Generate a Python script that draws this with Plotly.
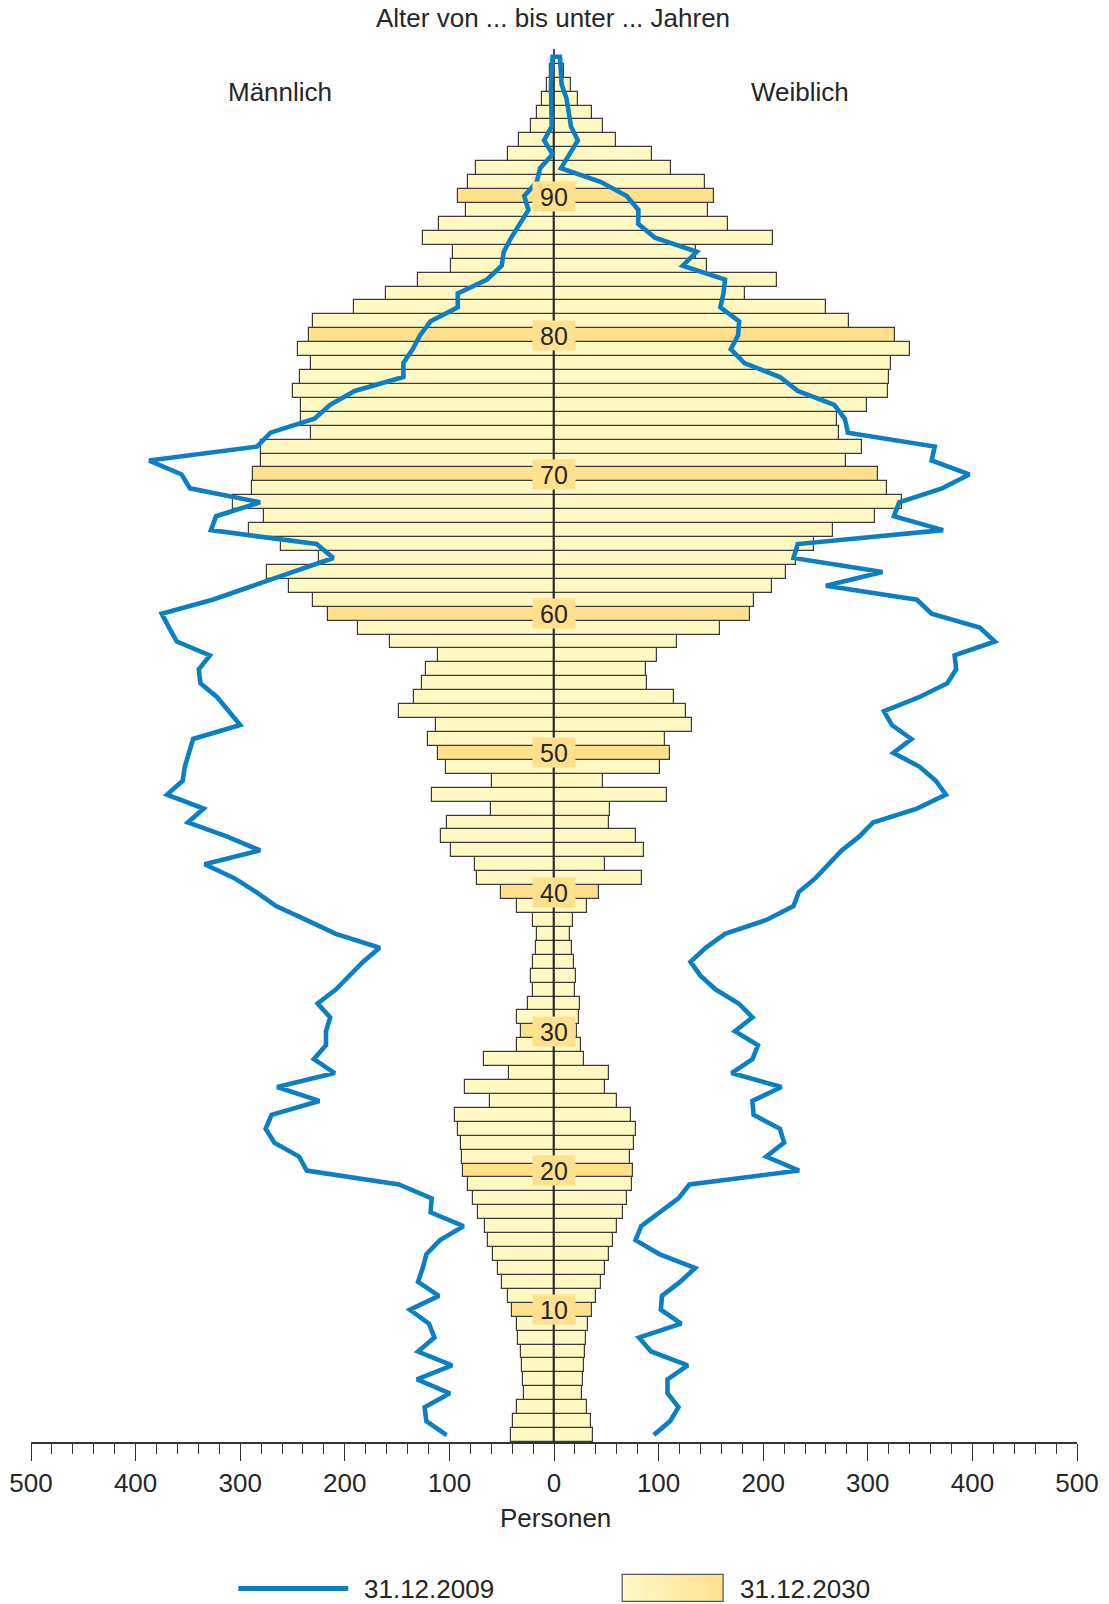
import plotly.graph_objects as go

# ---------------- data ----------------
ages_bar = list(range(1, 100))    # 99 one-year age groups (bars)
ages_line = list(range(1, 101))   # 100 points of the 2009 outline

male_2030 = [40.9, 39.3, 35.1, 28.8, 29.9, 30.9, 32.0, 34.1, 35.1, 39.8,
             44.0, 49.3, 53.5, 58.2, 62.9, 66.0, 72.3, 77.0, 82.3, 87.0,
             88.0, 89.1, 92.2, 94.9, 60.8, 85.0, 43.0, 67.0, 35.6, 31.4,
             35.6, 25.2, 19.9, 22.0, 19.9, 17.3, 16.2, 19.9, 35.6, 50.3,
             73.9, 76.0, 98.5, 108.5, 102.2, 60.3, 116.4, 59.2, 103.2, 111.1,
             120.0, 113.2, 148.3, 134.2, 126.3, 122.1, 111.1, 157.2, 187.6, 215.9,
             230.6, 253.1, 274.1, 224.3, 261.0, 291.5, 277.1, 307.1, 288.4, 287.4,
             280.1, 280.1, 232.5, 242.3, 242.3, 249.6, 243.3, 232.5, 244.4, 234.6,
             230.4, 191.6, 160.5, 129.6, 98.5, 97.0, 125.5, 109.6, 84.6, 91.6,
             82.1, 74.8, 44.4, 33.9, 22.2, 16.5, 11.1, 6.3, 3.8]

female_2030 = [37.7, 35.1, 31.4, 26.7, 27.8, 28.3, 29.4, 30.4, 32.5, 36.7,
               39.8, 44.5, 48.7, 53.0, 56.6, 60.3, 65.5, 70.2, 74.4, 75.5,
               72.3, 76.5, 78.6, 73.4, 60.3, 48.7, 52.4, 28.8, 25.7, 22.0,
               23.6, 24.6, 19.9, 21.0, 18.9, 16.8, 15.7, 17.8, 31.4, 43.0,
               83.9, 48.7, 86.0, 78.6, 52.4, 53.5, 108.5, 46.6, 101.7, 110.6,
               106.4, 131.6, 125.8, 114.8, 89.1, 88.0, 98.5, 117.4, 158.8, 187.6,
               190.8, 208.6, 221.7, 231.7, 248.4, 266.6, 306.7, 332.7, 318.6, 309.3,
               279.3, 294.3, 272.0, 271.0, 299.0, 319.2, 319.8, 322.3, 340.4, 326.0,
               281.9, 260.2, 182.5, 213.0, 146.0, 136.0, 209.0, 166.0, 147.5, 152.5,
               144.0, 112.0, 93.5, 59.6, 46.9, 36.4, 23.4, 15.8, 9.5]

male_2009 = [102.7, 122.0, 123.7, 99.6, 131.0, 97.5, 130.0, 114.3, 119.5, 137.8,
             110.0, 130.0, 125.5, 122.0, 109.0, 86.5, 118.0, 116.9, 148.3, 236.4,
             243.7, 267.3, 275.7, 270.0, 224.3, 264.7, 209.6, 229.6, 218.0, 218.0,
             214.0, 226.0, 208.6, 195.5, 182.4, 166.7, 208.6, 237.0, 265.7, 284.6,
             305.6, 334.0, 281.0, 313.0, 350.0, 335.0, 370.0, 355.0, 353.0, 349.0,
             345.0, 300.0, 311.0, 322.0, 338.0, 339.6, 329.0, 360.6, 368.0, 375.0,
             326.5, 288.0, 249.0, 211.0, 227.0, 328.0, 323.0, 281.0, 348.0, 356.0,
             387.0, 284.0, 271.0, 229.0, 214.0, 190.5, 144.0, 144.0, 135.0, 128.0,
             118.0, 92.0, 92.0, 64.0, 50.0, 48.0, 41.0, 33.0, 24.4, 28.5,
             16.5, 13.3, 1.3, 9.5, 2.2, 2.5, 2.9, 2.9, 2.2, 1.3]

female_2009 = [95.4, 111.0, 119.0, 108.5, 108.5, 127.9, 92.8, 81.2, 121.6, 102.2,
               103.2, 120.5, 135.0, 100.6, 78.0, 83.3, 100.6, 119.0, 129.5, 234.3,
               202.8, 220.0, 216.0, 190.8, 189.7, 217.5, 169.8, 189.7, 195.0, 173.0,
               189.7, 176.6, 154.6, 140.0, 130.5, 145.0, 163.5, 203.0, 229.0, 234.0,
               250.0, 263.0, 275.0, 292.0, 305.0, 347.0, 374.7, 365.0, 349.6, 324.4,
               341.7, 323.0, 315.5, 349.0, 376.0, 384.5, 383.0, 421.5, 407.0, 361.0,
               347.0, 260.0, 314.0, 229.0, 233.0, 372.0, 325.0, 330.0, 371.0, 397.0,
               361.0, 364.0, 281.0, 278.0, 268.0, 233.0, 216.0, 182.0, 169.0, 176.0,
               177.0, 159.0, 162.0, 163.5, 123.0, 136.5, 96.5, 80.5, 80.7, 69.5,
               45.0, 6.7, 14.6, 22.8, 16.2, 14.3, 12.0, 7.3, 6.7, 5.7]

label_ages = [10, 20, 30, 40, 50, 60, 70, 80, 90]
x_tickvals = [-500, -400, -300, -200, -100, 0, 100, 200, 300, 400, 500]
x_ticktext = ["500", "400", "300", "200", "100", "0", "100", "200", "300", "400", "500"]

# ---------------- styling ----------------
FONT = "Liberation Sans, Arial, sans-serif"
TXT = "#262626"
PALE = "#FFF8C2"
DEEP = "#FFE08C"
EDGE = "#3C3C3C"
BLUE = "#0A7FC4"

W, H = 1109, 1604
M_L, M_R, M_T, M_B = 30.6, 32.0, 49.0, 161.5
PLOT_H = H - M_T - M_B
PLOT_W = W - M_L - M_R

bar_colors = [DEEP if a in label_ages else PALE for a in ages_bar]

fig = go.Figure()

fig.add_trace(go.Bar(
    y=ages_bar, x=[-v for v in male_2030], orientation="h", width=1.0,
    marker=dict(color=bar_colors, line=dict(color=EDGE, width=1.2)),
    hoverinfo="skip", showlegend=False))
fig.add_trace(go.Bar(
    y=ages_bar, x=female_2030, orientation="h", width=1.0,
    marker=dict(color=bar_colors, line=dict(color=EDGE, width=1.2)),
    hoverinfo="skip", showlegend=False))

# central vertical axis line (drawn over the bars, under the outline)
y_lo, y_hi = 0.5, 100.56
fig.add_trace(go.Scatter(
    x=[0, 0], y=[y_lo, y_hi], mode="lines",
    line=dict(color="#222222", width=1.6), hoverinfo="skip", showlegend=False))

# 2009 outline: male side upward, female side downward (one continuous path)
line_x = [-v for v in male_2009] + list(reversed(female_2009))
line_y = ages_line + list(reversed(ages_line))
fig.add_trace(go.Scatter(
    x=line_x, y=line_y, mode="lines",
    line=dict(color=BLUE, width=4.6), hoverinfo="skip", showlegend=False))

annotations = []
for a in label_ages:
    annotations.append(dict(
        x=0, y=a, xref="x", yref="y", text=str(a), showarrow=False,
        font=dict(family=FONT, size=25, color=TXT),
        bgcolor=DEEP, width=42, height=29, borderpad=0))

def px_to_paper_y(py):
    return (H - M_B - py) / PLOT_H

def px_to_paper_x(px):
    return (px - M_L) / PLOT_W

annotations += [
    dict(x=px_to_paper_x(553), y=px_to_paper_y(18), xref="paper", yref="paper",
         text="Alter von ... bis unter ... Jahren", showarrow=False,
         font=dict(family=FONT, size=26, color=TXT), xanchor="center", yanchor="middle"),
    dict(x=px_to_paper_x(280), y=px_to_paper_y(92), xref="paper", yref="paper",
         text="Männlich", showarrow=False,
         font=dict(family=FONT, size=26, color=TXT), xanchor="center", yanchor="middle"),
    dict(x=px_to_paper_x(800), y=px_to_paper_y(92), xref="paper", yref="paper",
         text="Weiblich", showarrow=False,
         font=dict(family=FONT, size=26, color=TXT), xanchor="center", yanchor="middle"),
    dict(x=px_to_paper_x(555), y=px_to_paper_y(1519), xref="paper", yref="paper",
         text="Personen", showarrow=False,
         font=dict(family=FONT, size=26, color=TXT), xanchor="center", yanchor="middle"),
    dict(x=px_to_paper_x(362), y=px_to_paper_y(1590), xref="paper", yref="paper",
         text="31.12.2009", showarrow=False,
         font=dict(family=FONT, size=26, color=TXT), xanchor="left", yanchor="middle"),
    dict(x=px_to_paper_x(738), y=px_to_paper_y(1590), xref="paper", yref="paper",
         text="31.12.2030", showarrow=False,
         font=dict(family=FONT, size=26, color=TXT), xanchor="left", yanchor="middle"),
]

shapes = [
    dict(type="line", xref="paper", yref="paper",
         x0=px_to_paper_x(238), x1=px_to_paper_x(348),
         y0=px_to_paper_y(1589), y1=px_to_paper_y(1589),
         line=dict(color=BLUE, width=5)),
]
# legend swatch with a light-to-deep horizontal gradient
n_strips = 24
sx0, sx1 = 622, 723
for k in range(n_strips):
    t = k / (n_strips - 1)
    r = 255
    g = int(round(250 + (224 - 250) * t))
    b = int(round(200 + (140 - 200) * t))
    a0 = sx0 + (sx1 - sx0) * k / n_strips
    a1 = sx0 + (sx1 - sx0) * (k + 1) / n_strips
    shapes.append(dict(type="rect", xref="paper", yref="paper",
                       x0=px_to_paper_x(a0), x1=px_to_paper_x(a1) + 0.0005,
                       y0=px_to_paper_y(1602), y1=px_to_paper_y(1575),
                       fillcolor=f"rgb({r},{g},{b})", line=dict(width=0)))
shapes.append(dict(type="rect", xref="paper", yref="paper",
                   x0=px_to_paper_x(sx0), x1=px_to_paper_x(sx1),
                   y0=px_to_paper_y(1602), y1=px_to_paper_y(1575),
                   line=dict(color="#555555", width=1.2)))

fig.update_layout(
    width=W, height=H,
    margin=dict(l=M_L, r=M_R, t=M_T, b=M_B, pad=0, autoexpand=False),
    paper_bgcolor="white", plot_bgcolor="white",
    barmode="overlay", bargap=0,
    showlegend=False,
    font=dict(family=FONT, size=26, color=TXT),
    annotations=annotations, shapes=shapes,
    xaxis=dict(
        range=[-500, 500], tickmode="array", tickvals=x_tickvals, ticktext=x_ticktext,
        ticks="outside", ticklen=17, tickwidth=1.3, tickcolor="#333333",
        showline=True, linecolor="#333333", linewidth=1.5,
        showgrid=False, zeroline=False, automargin=False,
        ticklabelstandoff=0,
        tickfont=dict(family=FONT, size=26, color=TXT),
        minor=dict(tickmode="linear", tick0=0, dtick=20, ticks="outside",
                   ticklen=10, tickwidth=1.1, tickcolor="#333333", showgrid=False),
        fixedrange=True),
    yaxis=dict(range=[y_lo, y_hi], visible=False, showgrid=False, zeroline=False,
               fixedrange=True),
)

fig.write_html("out.html", post_script="document.body.style.margin='0px';",
               config={"displayModeBar": False})
